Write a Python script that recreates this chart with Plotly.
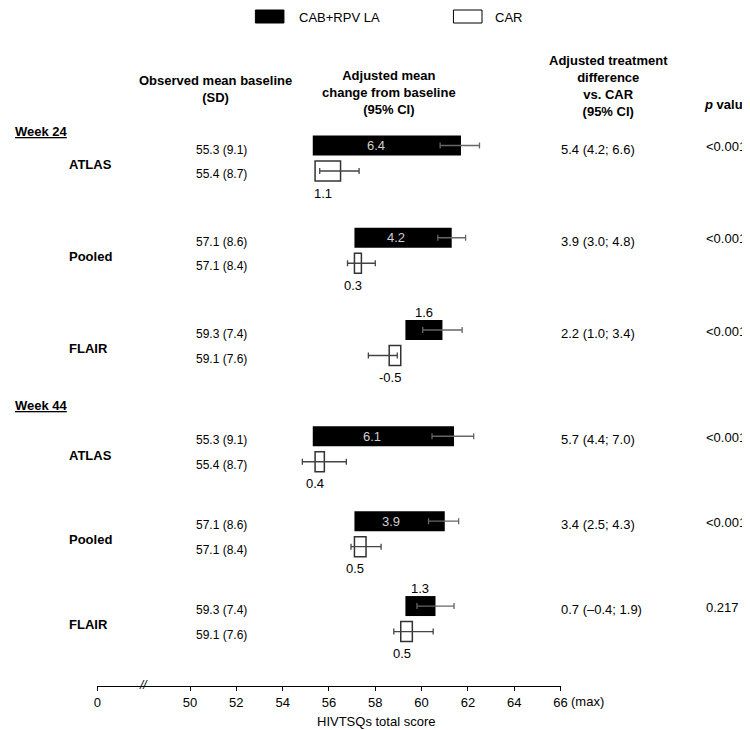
import plotly.graph_objects as go

# ---------------- data ----------------
studies = ["ATLAS", "Pooled", "FLAIR"]
weeks = ["Week 24", "Week 44"]

cab_baseline = [55.3, 57.1, 59.3, 55.3, 57.1, 59.3]
cab_sd = [9.1, 8.6, 7.4, 9.1, 8.6, 7.4]
car_baseline = [55.4, 57.1, 59.1, 55.4, 57.1, 59.1]
car_sd = [8.7, 8.4, 7.6, 8.7, 8.4, 7.6]

cab_change = [6.4, 4.2, 1.6, 6.1, 3.9, 1.3]
cab_ci_minus = [0.9, 0.6, 0.85, 0.95, 0.7, 0.8]
cab_ci_plus = [0.8, 0.6, 0.85, 0.85, 0.6, 0.8]

car_change = [1.1, 0.3, -0.5, 0.4, 0.5, 0.5]
car_ci_minus = [0.9, 0.6, 0.9, 0.95, 0.65, 0.8]
car_ci_plus = [0.8, 0.6, 0.35, 0.95, 0.65, 0.9]

diff_est = [5.4, 3.9, 2.2, 5.7, 3.4, 0.7]
diff_lo = [4.2, 3.0, 1.0, 4.4, 2.5, -0.4]
diff_hi = [6.6, 4.8, 3.4, 7.0, 4.3, 1.9]
p_values = ["<0.001", "<0.001", "<0.001", "<0.001", "<0.001", "0.217"]

x_tick_vals = [46, 50, 52, 54, 56, 58, 60, 62, 64, 66]   # 46 = broken-axis position of "0"
x_tick_text = ["0", "50", "52", "54", "56", "58", "60", "62", "64", "66"]

# ---------------- layout constants ----------------
W, H = 750, 730
FONT = "Liberation Sans, Arial, sans-serif"
week_label_y = [123, 397]
group_first_center = [150.25, 441.0]
group_step = [92.25, 84.9]
pair_offset = 12.75
bar_h = 20

cab_y, car_y, grp_y = [], [], []
for k in range(6):
    w, i = divmod(k, 3)
    gc = group_first_center[w] + i * group_step[w]
    grp_y.append(gc)
    cab_y.append(gc - pair_offset)
    car_y.append(gc + pair_offset)

fig = go.Figure()

fig.add_trace(go.Bar(
    orientation="h", y=cab_y, x=cab_change, base=cab_baseline, width=bar_h,
    marker=dict(color="black", line=dict(color="black", width=0)),
    error_x=dict(type="data", symmetric=False, array=cab_ci_plus, arrayminus=cab_ci_minus,
                 color="#666666", thickness=1.3, width=3),
    name="CAB+RPV LA", showlegend=False, hoverinfo="skip",
))
fig.add_trace(go.Bar(
    orientation="h", y=car_y, x=car_change, base=car_baseline, width=bar_h,
    marker=dict(color="white", line=dict(color="#333333", width=1.5)),
    error_x=dict(type="data", symmetric=False, array=car_ci_plus, arrayminus=car_ci_minus,
                 color="#444444", thickness=1.3, width=3),
    name="CAR", showlegend=False, hoverinfo="skip",
))

ann = []
def txt(x, y, text, size=12, anchor="center", bold=False, color="black", xref="paper", xshift=0):
    if bold:
        text = "<b>" + text + "</b>"
    ann.append(dict(x=x, y=y, xref=xref, yref="y", text=text, showarrow=False,
                    xanchor=anchor, yanchor="middle", xshift=xshift,
                    font=dict(family=FONT, size=size, color=color)))

# Headers
txt(207 / W, 81, "Observed mean baseline<br>(SD)", size=13, bold=True)
txt(383 / W, 84, "Adjusted mean<br>change from baseline<br>(95% CI)", size=13, bold=True)
txt(605 / W, 78, "Adjusted treatment<br>difference<br>vs. CAR<br>(95% CI)", size=13, bold=True)
txt(726 / W, 96, "<i>p</i> value", size=13, bold=True)

# Week labels
for w, lab in enumerate(weeks):
    txt(1 / W, week_label_y[w], "<u>" + lab + "</u>", size=13, anchor="left", bold=True)

for k in range(6):
    # study label
    txt(56 / W, grp_y[k] + 6, studies[k % 3], size=13, anchor="left", bold=True)
    # baseline text
    txt(213 / W, cab_y[k] + 4, f"{cab_baseline[k]:.1f} ({cab_sd[k]:.1f})", size=12)
    txt(213 / W, car_y[k] + 3, f"{car_baseline[k]:.1f} ({car_sd[k]:.1f})", size=12)
    # treatment difference
    dtxt = f"{diff_est[k]:.1f} ({diff_lo[k]:.1f}; {diff_hi[k]:.1f})".replace("-", "\u2013")
    txt(555 / W, cab_y[k] + 3.5, dtxt, size=13, anchor="left")
    txt(702 / W, cab_y[k] + 1, p_values[k], size=13, anchor="left")
    # value labels
    if cab_change[k] >= 3:
        lx = (cab_baseline[k] + cab_baseline[k] + cab_change[k] - cab_ci_minus[k]) / 2
        txt(lx, cab_y[k], f"{cab_change[k]:.1f}", size=13, color="#d0d0d0", xref="x")
    else:
        txt(cab_baseline[k] + cab_change[k] / 2, cab_y[k] - 18, f"{cab_change[k]:.1f}", size=13, xref="x")
    txt(car_baseline[k] + car_change[k] / 2, car_y[k] + 22, f"{car_change[k]:.1f}", size=13,
        xref="x", xshift=-5)

# Legend
shapes = [
    dict(type="rect", xref="paper", yref="y", x0=247 / W, x1=276 / W, y0=2, y1=15,
         fillcolor="black", line=dict(color="black", width=1)),
    dict(type="rect", xref="paper", yref="y", x0=448 / W, x1=477 / W, y0=2, y1=15,
         fillcolor="white", line=dict(color="black", width=1)),
]
txt(289 / W, 9, "CAB+RPV LA", size=13, anchor="left")
txt(488 / W, 9, "CAR", size=13, anchor="left")

# Axis extras
txt(48.0, 677, "<i>//</i>", size=12, xref="x")
txt(565 / W, 693, "(max)", size=13, anchor="left")
txt(369 / W, 713, "HIVTSQs total score", size=13)

fig.update_layout(
    width=W, height=H, autosize=False,
    margin=dict(l=0, r=0, t=0, b=0),
    plot_bgcolor="white", paper_bgcolor="white",
    barmode="overlay",
    annotations=ann, shapes=shapes,
    font=dict(family=FONT, size=12, color="black"),
    xaxis=dict(domain=[86.7 / W, 556.7 / W], range=[46, 66], anchor="free",
               position=1 - 678 / H, showgrid=False, zeroline=False,
               showline=True, linecolor="black", linewidth=1,
               ticks="outside", ticklen=4, tickcolor="black", tickwidth=1,
               tickvals=x_tick_vals, ticktext=x_tick_text,
               tickfont=dict(family=FONT, size=13, color="black"), fixedrange=True),
    yaxis=dict(domain=[0, 1], range=[H, 0], visible=False, showgrid=False,
               zeroline=False, fixedrange=True),
)

fig.write_html("out.html")
